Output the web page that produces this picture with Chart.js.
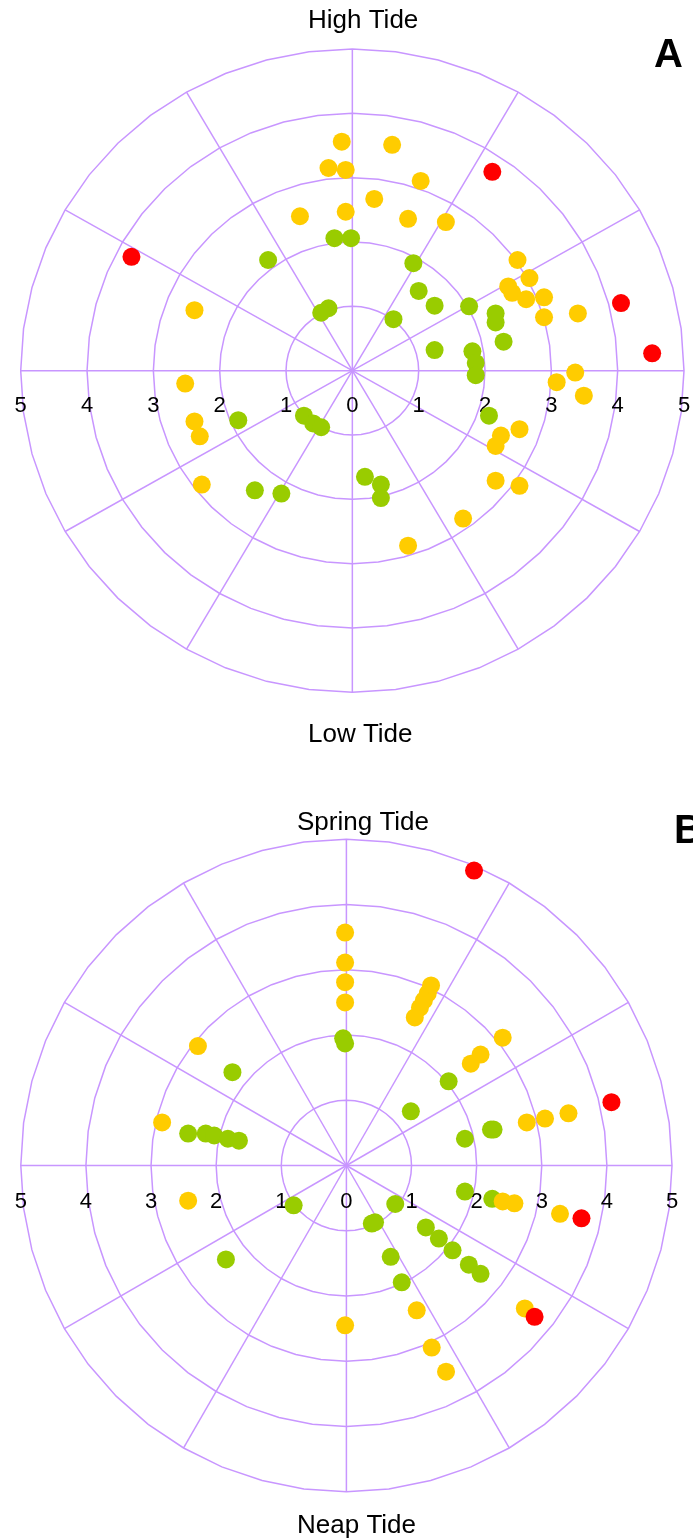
<!DOCTYPE html>
<html>
<head>
<meta charset="utf-8">
<script src="https://cdn.jsdelivr.net/npm/chart.js@4.4.0/dist/chart.umd.min.js"></script>
<style>
  body { margin: 0; background: #fff; }
  #wrap { position: relative; width: 693px; height: 1538px; overflow: hidden; }
  canvas { position: absolute; left: 0; }
  #chartA { top: 0; }
  #chartB { top: 780px; }
</style>
</head>
<body>
<div id="wrap">
  <canvas id="chartA" width="693" height="780"></canvas>
  <canvas id="chartB" width="693" height="758"></canvas>
</div>
<script>
// Panel A (high / low tide) - points as [x, y] in plot units
const aGreen = [
  [-0.27, 2.06], [-0.02, 2.06], [-1.27, 1.72], [0.92, 1.67], [1.00, 1.24],
  [1.24, 1.01], [1.76, 1.00], [2.16, 0.89], [2.16, 0.75], [-0.36, 0.97],
  [-0.47, 0.90], [0.62, 0.80], [2.28, 0.45], [1.24, 0.32], [1.81, 0.30],
  [1.86, 0.12], [1.86, -0.07], [-1.72, -0.77], [-0.73, -0.70], [-0.59, -0.82],
  [-0.47, -0.88], [2.06, -0.70], [0.19, -1.65], [0.43, -1.77], [0.43, -1.98],
  [-1.47, -1.86], [-1.07, -1.91]
];
const aYellow = [
  [-0.16, 3.56], [0.60, 3.51], [-0.36, 3.15], [-0.10, 3.12], [1.03, 2.95],
  [0.33, 2.67], [-0.10, 2.47], [-0.79, 2.40], [0.84, 2.36], [1.41, 2.31],
  [2.49, 1.72], [2.67, 1.44], [2.35, 1.31], [2.41, 1.21], [2.62, 1.11],
  [2.89, 1.14], [2.89, 0.83], [3.40, 0.89], [-2.38, 0.94], [-2.52, -0.20],
  [3.36, -0.03], [3.08, -0.18], [3.49, -0.39], [-2.38, -0.79], [-2.30, -1.02],
  [-2.27, -1.77], [2.52, -0.91], [2.24, -1.01], [2.16, -1.17], [2.16, -1.71],
  [2.52, -1.79], [1.67, -2.30], [0.84, -2.72]
];
const aRed = [[2.11, 3.09], [-3.33, 1.77], [4.05, 1.05], [4.52, 0.27]];

// Panel B (spring / neap tide)
const bGreen = [
  [-0.05, 1.95], [-0.02, 1.87], [1.57, 1.29], [-1.75, 1.43], [0.99, 0.83],
  [-2.43, 0.49], [-2.16, 0.49], [-2.03, 0.46], [-1.82, 0.41], [-1.65, 0.38],
  [1.82, 0.41], [2.22, 0.55], [2.26, 0.55], [1.82, -0.40], [2.24, -0.51],
  [-0.81, -0.61], [0.75, -0.59], [0.44, -0.87], [0.39, -0.89], [1.22, -0.95],
  [1.42, -1.12], [1.63, -1.30], [1.88, -1.52], [2.06, -1.66], [0.68, -1.40],
  [0.85, -1.79], [-1.85, -1.44]
];
const bYellow = [
  [-0.02, 3.57], [-0.02, 3.11], [-0.02, 2.81], [-0.02, 2.50], [1.30, 2.76],
  [1.25, 2.64], [1.19, 2.53], [1.13, 2.42], [1.05, 2.27], [2.40, 1.96],
  [2.06, 1.70], [1.91, 1.56], [-2.28, 1.83], [-2.83, 0.66], [2.77, 0.66],
  [3.05, 0.72], [3.41, 0.80], [-2.43, -0.54], [2.40, -0.55], [2.58, -0.58],
  [3.28, -0.74], [2.74, -2.19], [1.08, -2.22], [-0.02, -2.45], [1.31, -2.79],
  [1.53, -3.16]
];
const bRed = [[1.96, 4.52], [4.07, 0.97], [3.61, -0.81], [2.89, -2.32]];

const ringValues = [1, 2, 3, 4, 5];
const spokeAngles = [0, 30, 60, 90, 120, 150, 180, 210, 240, 270, 300, 330];
const tickValues = [-5, -4, -3, -2, -1, 0, 1, 2, 3, 4, 5];
const tickLabels = ['5', '4', '3', '2', '1', '0', '1', '2', '3', '4', '5'];

const GREEN = '#99CC00', YELLOW = '#FFCC00', RED = '#FF0000', GRID = '#C896FF';
const FONT = '"Liberation Sans", Arial, sans-serif';

const toPts = arr => arr.map(p => ({ x: p[0], y: p[1] }));

// draws rings, spokes, radial labels and the titles
const polarGrid = {
  id: 'polarGrid',
  beforeDatasetsDraw(chart, args, opts) {
    const { ctx, scales: { x, y } } = chart;
    const px = v => x.getPixelForValue(v);
    const py = v => y.getPixelForValue(v);
    ctx.save();
    ctx.strokeStyle = GRID;
    ctx.lineWidth = 1.5;
    ringValues.forEach(r => {
      ctx.beginPath();
      for (let i = 0; i <= 48; i++) {
        const t = i / 48 * Math.PI * 2;
        const X = px(r * Math.cos(t)), Y = py(r * Math.sin(t));
        if (i === 0) ctx.moveTo(X, Y); else ctx.lineTo(X, Y);
      }
      ctx.closePath();
      ctx.stroke();
    });
    spokeAngles.forEach(a => {
      const t = a * Math.PI / 180;
      const rMax = ringValues[ringValues.length - 1];
      ctx.beginPath();
      ctx.moveTo(px(0), py(0));
      ctx.lineTo(px(rMax * Math.cos(t)), py(rMax * Math.sin(t)));
      ctx.stroke();
    });
    ctx.fillStyle = '#000';
    ctx.font = '22px ' + FONT;
    ctx.textAlign = 'center';
    ctx.textBaseline = 'alphabetic';
    tickValues.forEach((v, i) => {
      ctx.fillText(tickLabels[i], px(v), py(0) + opts.tickOffset);
    });
    ctx.restore();
  },
  afterDraw(chart, args, opts) {
    const { ctx } = chart;
    ctx.save();
    ctx.fillStyle = '#000';
    ctx.textAlign = 'left';
    ctx.textBaseline = 'alphabetic';
    ctx.font = '26px ' + FONT;
    ctx.fillText(opts.top.text, opts.top.x, opts.top.y);
    ctx.fillText(opts.bottom.text, opts.bottom.x, opts.bottom.y);
    ctx.font = 'bold 40px ' + FONT;
    ctx.fillText(opts.letter.text, opts.letter.x, opts.letter.y);
    ctx.restore();
  }
};

function makeChart(id, green, yellow, red, padding, gridOpts) {
  const ds = (data, color) => ({
    data: toPts(data),
    backgroundColor: color,
    borderWidth: 0,
    pointRadius: 9,
    pointHoverRadius: 9
  });
  return new Chart(document.getElementById(id), {
    type: 'scatter',
    data: {
      // first dataset is drawn on top
      datasets: [ds(red, RED), ds(yellow, YELLOW), ds(green, GREEN)]
    },
    options: {
      responsive: false,
      animation: false,
      layout: { padding },
      scales: {
        x: { type: 'linear', min: -5, max: 5, display: false },
        y: { type: 'linear', min: -5, max: 5, display: false }
      },
      plugins: {
        legend: { display: false },
        tooltip: { enabled: false },
        polarGrid: gridOpts
      }
    },
    plugins: [polarGrid]
  });
}

makeChart('chartA', aGreen, aYellow, aRed,
  { left: 20.7, right: 8, top: 49, bottom: 87.7 },
  {
    tickOffset: 41,
    top: { text: 'High Tide', x: 308, y: 28 },
    bottom: { text: 'Low Tide', x: 308, y: 742 },
    letter: { text: 'A', x: 654, y: 67 }
  });

makeChart('chartB', bGreen, bYellow, bRed,
  { left: 20.8, right: 21, top: 59.3, bottom: 46.3 },
  {
    tickOffset: 42,
    top: { text: 'Spring Tide', x: 297, y: 50 },
    bottom: { text: 'Neap Tide', x: 297, y: 753 },
    letter: { text: 'B', x: 674, y: 63 }
  });
</script>
</body>
</html>
